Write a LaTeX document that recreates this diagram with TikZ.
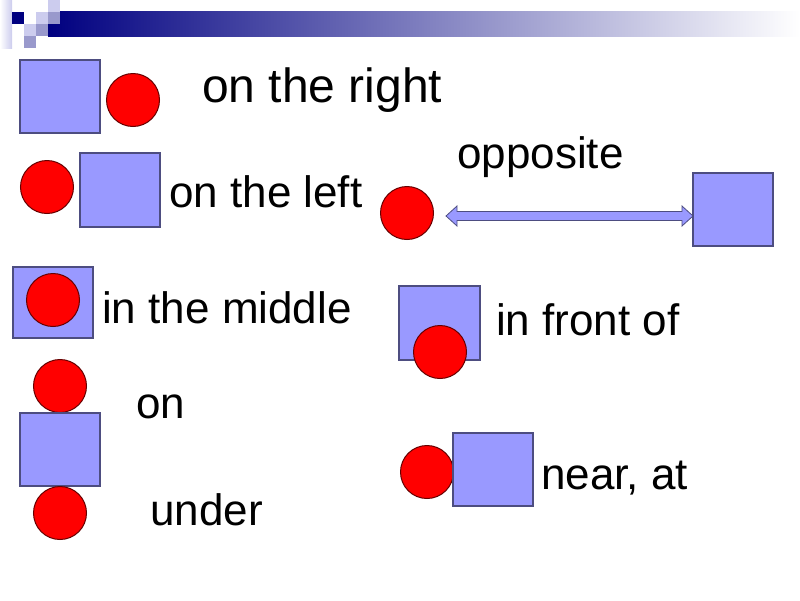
\documentclass[tikz,border=0pt]{standalone}
\usepackage{fontspec}
\setmainfont{Liberation Sans}
\definecolor{sqfill}{HTML}{9999FF}
\definecolor{sqline}{HTML}{4D4D80}
\definecolor{cfill}{HTML}{FF0000}
\definecolor{cline}{HTML}{660000}
\definecolor{navy}{HTML}{000080}
\definecolor{lav}{HTML}{CCCCEE}
\definecolor{midlav}{HTML}{9999CC}
\tikzset{
  sq/.style={draw=sqline, fill=sqfill, line width=1.2pt},
  ball/.style={circle, draw=cline, fill=cfill, line width=1pt, minimum size=53pt, inner sep=0pt},
  lbl/.style={anchor=base west, inner sep=0pt, font=\fontsize{44}{50}\selectfont},
}
\begin{document}
\begin{tikzpicture}[x=1pt, y=-1pt]
\useasboundingbox (0,0) rectangle (800,600);
% header
\shade[left color=navy, right color=white, middle color=navy!50!white] (48,11.5) rectangle (800,36);
\shade[left color=white, right color=lav] (0,0) rectangle (12,48);
\fill[lav] (48,0) rectangle (60,12);
\fill[navy] (12,12) rectangle (24,24);
\fill[lav] (36,12) rectangle (48,24);
\fill[midlav] (48,12) rectangle (60,24);
\fill[lav] (24,24) rectangle (36,36);
\fill[midlav] (36,24) rectangle (48,36);
\fill[midlav] (24,36) rectangle (36,48);
% on the right
\draw[sq] (20,60) rectangle (100,133);
\node[ball] (c1) at (133,100) {};
\node[lbl, font=\fontsize{48}{54}\selectfont] (t1) at (202,102) {on the right};
% on the left
\node[ball] (c2) at (47,187) {};
\draw[sq] (80,153) rectangle (160,227);
\node[lbl] (t2) at (169,207) {on the left};
% in the middle
\draw[sq] (13,267) rectangle (93,338);
\node[ball] (c3) at (53,300) {};
\node[lbl] (t3) at (102,323) {in the middle};
% on / under
\node[ball] (c4) at (60,386) {};
\draw[sq] (20,413) rectangle (100,486);
\node[ball] (c5) at (60,513) {};
\node[lbl] (t4) at (136,418) {on};
\node[lbl] (t5) at (150,525) {under};
% opposite
\node[lbl] (t6) at (457,168) {opposite};
\node[ball] (c6) at (407,213) {};
\draw[sq] (693,173) rectangle (773,246);
\draw[sqline, fill=sqfill, line width=0.8pt]
  (446,216) -- (457,206) -- (457,211.5) -- (682,211.5) -- (682,206) -- (693,216)
  -- (682,226) -- (682,220.5) -- (457,220.5) -- (457,226) -- cycle;
% in front of
\draw[sq] (399,286) rectangle (480,360);
\node[ball] (c7) at (440,352) {};
\node[lbl] (t7) at (496,335) {in front of};
% near, at
\node[ball] (c8) at (427,472) {};
\draw[sq] (453,433) rectangle (533,506);
\node[lbl] (t8) at (541,489) {near, at};
\end{tikzpicture}
\end{document}
